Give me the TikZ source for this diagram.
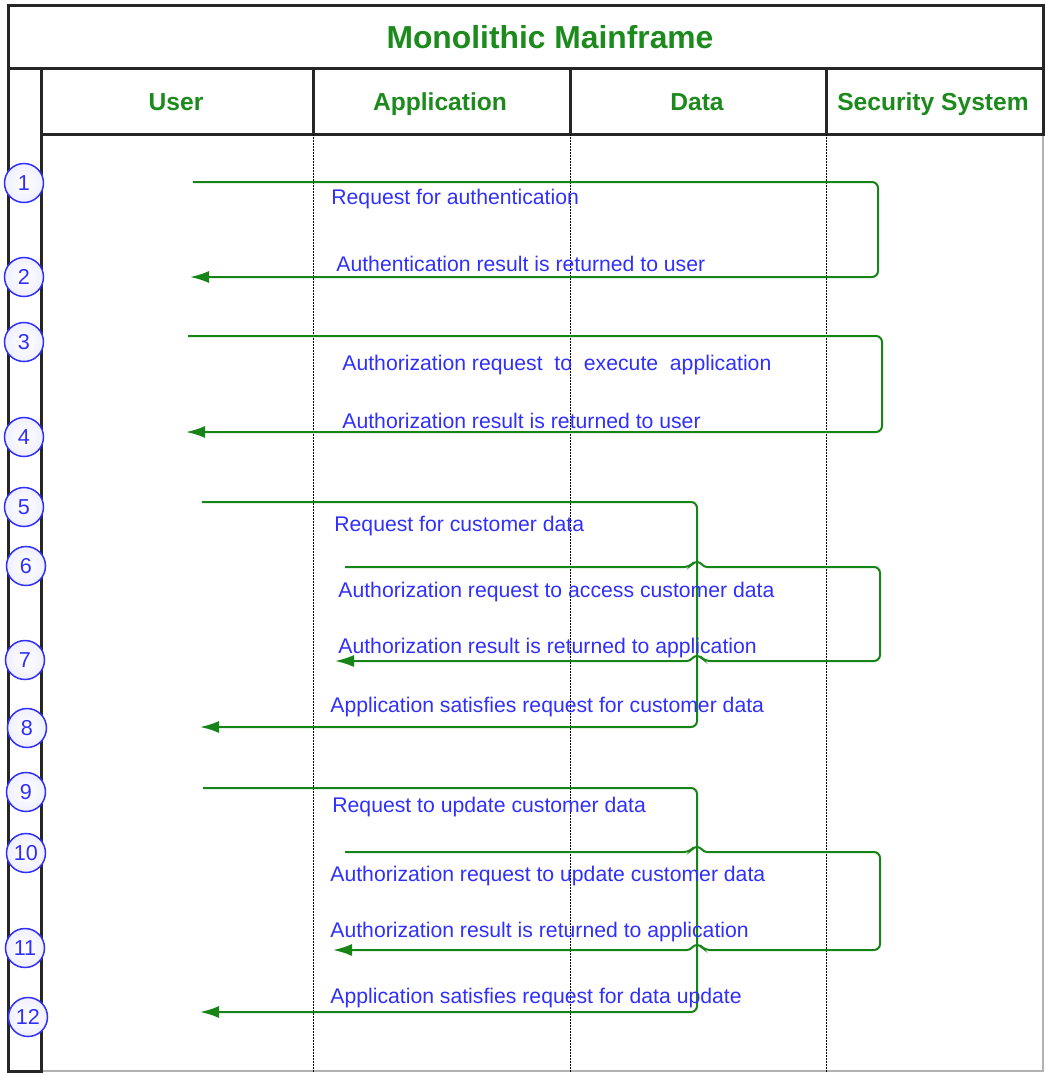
\documentclass[tikz,border=0pt]{standalone}
\usepackage{fontspec}
\setmainfont{Liberation Sans}
\usetikzlibrary{arrows.meta}

\definecolor{lanegreen}{RGB}{28,138,28}
\definecolor{linegreen}{RGB}{22,132,22}
\definecolor{msgblue}{RGB}{48,48,250}

\tikzset{
  frame/.style={line width=1.5pt, black!85},
  lifeline/.style={line width=0.5pt, dash pattern=on 1pt off 0.5pt},
  title/.style={anchor=base, text=lanegreen, font=\fontsize{15.9}{18}\selectfont\bfseries},
  lane/.style={anchor=base, text=lanegreen, font=\fontsize{12.3}{14}\selectfont\bfseries},
  num/.style={circle, draw=msgblue, inner color=white, outer color=blue!6, line width=0.75pt,
    minimum size=19.5pt, inner sep=0pt, text=msgblue, font=\fontsize{10.8}{12}\selectfont},
  lbl/.style={anchor=base west, inner sep=0pt, text=msgblue, font=\fontsize{10.6}{12}\selectfont},
  msg/.style={draw=linegreen, line width=1pt, rounded corners=3pt, -{Latex[length=9.5pt,width=6pt]}},
  hop/.style={rounded corners=1.5pt},
}

\begin{document}
\begin{tikzpicture}[x=0.5pt, y=-0.5pt]
\useasboundingbox (0,0) rectangle (1045,1073);

% frame and lanes
\draw[black!30, line width=0.75pt] (1043,134) -- (1043,1071) -- (41,1071);
\draw[frame] (8,5) rectangle (1043,68);
\draw[frame] (41,68) rectangle (1043,134);
\draw[frame] (8,68) rectangle (41,1071);
\foreach \x in {313,570,826} {
  \draw[frame] (\x,68) -- (\x,134);
  \draw[lifeline] (\x,134) -- (\x,1073);
}

\node[title] (Main) at (550,48) {Monolithic Mainframe};
\node[lane] (User) at (176,110) {User};
\node[lane] (App) at (440,110) {Application};
\node[lane] (Data) at (697,110) {Data};
\node[lane] (Sec) at (933,110) {Security System};

% step numbers
\foreach \n/\x/\y in {1/24/183, 2/24/277, 3/24/342, 4/24/437, 5/24/507, 6/26/566,
                      7/25/660, 8/27/728, 9/26/792, 10/26/853, 11/25/948, 12/28/1017}
  \node[num] (n\n) at (\x,\y) {\n};

% authentication
\coordinate (a1) at (193,182);
\coordinate (ar) at (878,277);
\coordinate (a2) at (190,277);
\draw[msg] (a1) -| (ar) -- (a2);
\node[lbl] (t1) at (331,204) {Request for authentication};
\node[lbl] (t2) at (336,271) {Authentication result is returned to user};

% authorization to execute
\coordinate (b1) at (188,336);
\coordinate (br) at (882,432);
\coordinate (b2) at (186,432);
\draw[msg] (b1) -| (br) -- (b2);
\node[lbl] (t3) at (342,370) {Authorization request~ to~ execute~ application};
\node[lbl] (t4) at (342,428) {Authorization result is returned to user};

% customer data
\coordinate (c1) at (202,502);
\coordinate (cr) at (697,727);
\coordinate (c2) at (200,727);
\draw[msg] (c1) -| (cr) -- (c2);
\node[lbl] (t5) at (334,531) {Request for customer data};
\node[lbl] (t8) at (330,712) {Application satisfies request for customer data};

\coordinate (d1) at (345,567);
\coordinate (d1h) at (690,567);
\coordinate (dr) at (880,661);
\coordinate (d2h) at (704,661);
\coordinate (d2) at (335,661);
\draw[msg] (d1) -- (d1h) [hop] -- ++(4,-5) -- ++(6,0) -- ++(4,5) [rounded corners=3pt] -| (dr)
  -- (d2h) [hop] -- ++(-4,-5) -- ++(-6,0) -- ++(-4,5) -- (d2);
\node[lbl] (t6) at (338,597) {Authorization request to access customer data};
\node[lbl] (t7) at (338,653) {Authorization result is returned to application};

% update customer data
\coordinate (e1) at (203,788);
\coordinate (er) at (697,1012);
\coordinate (e2) at (200,1012);
\draw[msg] (e1) -| (er) -- (e2);
\node[lbl] (t9) at (332,812) {Request to update customer data};
\node[lbl] (t12) at (330,1003) {Application satisfies request for data update};

\coordinate (f1) at (345,852);
\coordinate (f1h) at (690,852);
\coordinate (fr) at (880,950);
\coordinate (f2h) at (704,950);
\coordinate (f2) at (333,950);
\draw[msg] (f1) -- (f1h) [hop] -- ++(4,-5) -- ++(6,0) -- ++(4,5) [rounded corners=3pt] -| (fr)
  -- (f2h) [hop] -- ++(-4,-5) -- ++(-6,0) -- ++(-4,5) -- (f2);
\node[lbl] (t10) at (330,881) {Authorization request to update customer data};
\node[lbl] (t11) at (330,937) {Authorization result is returned to application};
\end{tikzpicture}
\end{document}
